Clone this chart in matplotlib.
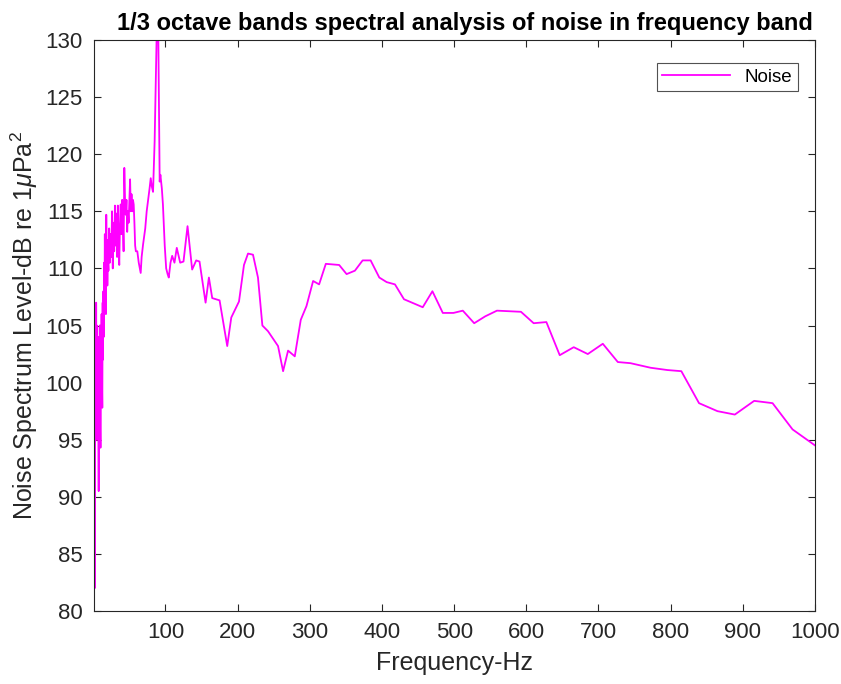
import matplotlib
matplotlib.use("Agg")
import matplotlib.pyplot as plt

plt.rcParams['font.family'] = ['Liberation Sans', 'DejaVu Sans']
plt.rcParams['mathtext.fontset'] = 'custom'
plt.rcParams['mathtext.rm'] = 'Liberation Sans'
plt.rcParams['mathtext.it'] = 'Liberation Sans:italic'

freq_hz = [1.0, 2.0, 2.25, 2.5, 2.75, 3.0, 3.25, 3.5, 3.75, 4.0, 4.25, 4.5, 4.75,
           5.0, 5.25, 5.5, 5.75, 6.0, 6.25, 6.5, 6.75, 7.0, 7.25, 7.5, 7.75, 8.0,
           8.25, 8.5, 8.75, 9.0, 9.25, 9.5, 9.75, 10.0, 10.25, 10.5, 10.75, 11.0,
           11.25, 11.5, 11.75, 12.0, 12.25, 12.5, 12.75, 13.0, 13.25, 13.5, 13.75,
           14.0, 14.5, 15.0,
           15.5, 16.0, 16.5, 17.0, 17.5, 18.0, 18.5, 19.0, 19.5, 20.0, 21, 22, 23, 24,
           25, 26, 27, 28, 29, 30, 31, 32, 33, 34, 35, 36, 37, 38, 39, 40, 41, 42, 43,
           44, 45, 46, 47, 48, 49, 50, 51, 52, 53, 54, 55, 56, 57, 58, 59, 61, 63, 65.7,
           67, 69, 72, 74, 76, 78, 79.6, 81, 82.8, 85, 86.5, 88, 89, 90, 91, 92, 93, 95,
           96.5, 99, 101, 103, 104.6, 107, 109.3, 112.5, 115.7, 120.4, 125, 130.6, 137,
           142.6, 147.2, 155.6, 160.2, 164.8, 175, 185.6, 191.2, 201.9, 208.8, 214.4,
           221.3, 228.2, 234.3, 242.1, 256, 263, 269.9, 279.2, 287.5, 295.4, 304.6,
           312.9, 322.2, 340.7, 351, 362.5, 373.2, 384.3, 396.3, 406.5, 418, 430.5,
           456.5, 469.9, 484.3, 499, 512, 527.8, 543, 559.3, 592.6, 610.2, 627.8, 646.3,
           665.7, 685.2, 706, 726.8, 744.4, 772.2, 795.4, 814.8, 839.3, 864.8, 888.9,
           915.7, 941.2, 968.9, 1000]

level_db = [109.5, 82.0, 99, 104, 96, 106, 95, 103, 98, 107, 96, 102, 95,
            105, 99, 103, 96, 101, 97, 104, 95.5, 99, 93, 90.5, 100, 104,
            97, 102, 96, 105, 99, 103, 96, 94.3, 101, 104, 99, 105,
            100, 106, 101, 103, 99, 97.8, 104, 107, 102, 103.6, 106,
            108, 104, 110.5,
            106.5, 113, 108, 112, 106, 114.7, 110, 112.5, 108.5, 111, 109.8, 113.5, 110.5, 113,
            111, 115, 110, 114, 111.5, 115.5, 112, 114.8, 111, 115.5, 112, 110.3, 114, 115.6, 113, 116, 114, 111.5, 118.8,
            116, 114.7, 116, 113.2, 115, 114, 116, 117.8, 115, 116.5, 115, 116, 115.6, 114, 112, 111.5, 111.5, 110.5, 109.6,
            111, 112.1, 113.5, 115, 116, 117, 117.9, 117.2, 116.7, 121.1, 126, 131, 133, 131, 124, 117.6, 118.2, 117.0,
            115.6, 112, 110, 109.5, 109.2, 110.5, 111.1, 110.5, 111.8, 110.5, 110.6, 113.7, 109.9,
            110.7, 110.6, 107.0, 109.2, 107.4, 107.2, 103.2, 105.7, 107.1, 110.3, 111.3,
            111.2, 109.2, 105.0, 104.5, 103.2, 101.0, 102.8, 102.3, 105.5, 106.7, 108.9,
            108.6, 110.4, 110.3, 109.5, 109.8, 110.7, 110.7, 109.2, 108.8, 108.6, 107.3,
            106.6, 108.0, 106.1, 106.1, 106.3, 105.2, 105.8, 106.3, 106.2, 105.2, 105.3, 102.4,
            103.1, 102.5, 103.4, 101.8, 101.7, 101.3, 101.1, 101.0, 98.2, 97.5, 97.2,
            98.4, 98.2, 95.9, 94.5]

xticks = [100, 200, 300, 400, 500, 600, 700, 800, 900, 1000]
yticks = [80, 85, 90, 95, 100, 105, 110, 115, 120, 125, 130]

axc = '#262626'
fig = plt.figure(figsize=(8.41, 6.84), dpi=100)
ax = fig.add_axes([94/841, 1-611/684, 721/841, 571/684])
ax.plot(freq_hz, level_db, color='#FF00FF', lw=1.3, label='Noise')
ax.set_xlim(1, 1000)
ax.set_ylim(80, 130)
ax.set_xticks(xticks)
ax.set_yticks(yticks)
ax.tick_params(direction='in', top=True, right=True, length=5, width=0.8,
               labelsize=16, colors=axc, pad=8)
for s in ax.spines.values():
    s.set_color(axc)
    s.set_linewidth(0.8)
ax.set_xlabel('Frequency-Hz', fontsize=18, color=axc, labelpad=6)
ax.set_ylabel(r'Noise Spectrum Level-dB re 1$\mu$Pa$^2$', fontsize=18, color=axc, labelpad=4)
ax.set_title('1/3 octave bands spectral analysis of noise in frequency band',
             fontsize=17, fontweight='bold', color='black', pad=7, x=0.515)
leg = ax.legend(loc='upper right', fontsize=13.5, frameon=True, fancybox=False,
                edgecolor=axc, handlelength=3.6, borderaxespad=0,
                bbox_to_anchor=(1 - 17/721, 1 - 23/571), borderpad=0.3)
leg.get_frame().set_linewidth(0.8)
fig.savefig('out.png', dpi=100, facecolor='white')
